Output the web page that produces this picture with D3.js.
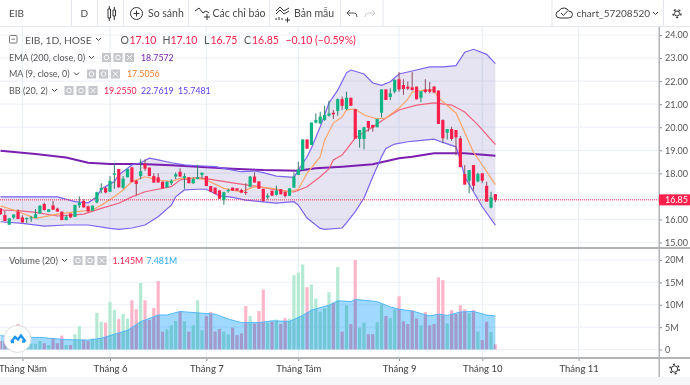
<!DOCTYPE html>
<html>
<head>
<meta charset="utf-8">
<script src="https://cdn.jsdelivr.net/npm/d3@7"></script>
<style>
html, body { margin: 0; padding: 0; background: #fff; overflow: hidden; }
text { font-family: Lato, "Noto Sans", sans-serif; }
</style>
</head>
<body>
<script>
// candles, one row per trading day
const opens = [16.48,16.19,15.77,16.08,16.34,16.09,16.03,16.05,16.06,16.26,16.67,16.32,16.61,16.47,16.34,15.97,16.26,16.11,16.61,16.80,16.57,16.38,16.74,17.29,17.36,17.20,17.94,18.19,17.38,17.83,18.26,17.68,17.88,18.42,18.25,17.88,17.83,17.64,17.39,
  17.57,17.86,18.07,17.80,17.83,17.57,17.75,17.93,17.88,17.45,17.38,17.26,16.84,17.22,17.38,17.35,17.28,17.19,17.42,17.86,17.65,17.33,16.96,17.25,17.07,17.31,17.20,17.03,17.38,17.93,18.14,19.47,19.23,20.20,20.17,20.31,20.50,20.63,20.70,21.22,20.79,21.28,20.78,19.49,19.49,20.27,20.10,20.00,20.63,21.64,21.31,21.54,22.08,
  21.83,21.76,21.73,21.76,21.28,21.64,21.64,21.76,21.59,20.31,19.76,19.92,19.88,19.52,17.97,17.68,18.36,17.65,18.00,17.46,16.51,17.10];
const highs = [16.48,16.38,16.05,16.23,16.44,16.18,16.09,16.15,16.45,16.60,16.73,16.44,16.80,16.51,16.34,16.19,16.26,16.63,17.00,16.87,16.60,16.60,17.20,17.57,17.42,17.88,18.43,18.19,17.88,18.19,18.26,17.71,18.61,18.61,18.25,18.00,18.00,17.64,17.64,
  17.74,18.04,18.22,18.00,17.83,17.83,18.36,18.03,17.88,17.45,17.38,17.26,17.20,17.33,17.38,17.35,17.33,17.57,17.88,18.04,17.65,17.33,17.13,17.25,17.46,17.31,17.20,17.35,18.04,18.50,19.47,19.47,20.20,20.60,20.67,20.92,21.15,20.75,21.25,21.33,21.54,21.28,20.78,19.88,20.02,20.27,20.10,20.36,21.64,21.64,21.69,22.08,22.39,
  22.08,21.98,22.39,21.76,21.56,22.08,21.96,21.79,21.59,20.34,19.92,20.02,19.88,19.62,18.36,18.14,18.36,18.03,18.00,17.64,17.20,17.10];
const lows = [16.20,15.93,15.77,16.03,16.02,15.87,15.83,15.89,16.06,16.26,16.38,16.32,16.42,16.34,15.97,15.97,16.06,16.11,16.50,16.52,16.31,16.38,16.70,17.13,17.13,17.20,17.33,17.39,17.33,17.83,17.62,17.04,17.74,18.11,17.88,17.60,17.60,17.35,17.39,
  17.49,17.75,17.86,17.33,17.57,17.54,17.74,17.78,17.45,17.20,17.10,16.90,16.64,17.16,17.25,17.25,17.16,17.06,17.39,17.60,17.33,16.76,16.87,17.03,17.04,17.09,16.95,17.03,17.38,17.93,18.14,19.07,19.23,20.17,20.14,20.28,20.46,20.36,20.50,20.75,20.75,20.93,19.50,19.11,19.04,19.81,19.81,20.00,20.43,21.18,21.18,21.47,21.54,
  21.40,21.61,21.59,21.21,21.08,21.47,21.47,21.47,20.14,19.33,19.47,19.42,18.78,18.26,17.51,17.13,17.25,17.61,17.57,16.77,16.48,16.75];
const closes = [16.23,15.93,16.05,16.21,16.02,15.87,16.06,16.09,16.22,16.60,16.41,16.44,16.42,16.34,15.97,16.12,16.09,16.63,16.73,16.52,16.35,16.60,17.18,17.36,17.17,17.67,18.00,17.39,17.77,18.19,17.62,17.54,18.09,18.20,17.88,17.60,17.60,17.35,17.64,
  17.68,17.96,17.86,17.88,17.57,17.75,17.83,18.03,17.45,17.20,17.10,16.90,17.18,17.28,17.25,17.25,17.16,17.16,17.86,17.60,17.33,16.80,17.03,17.03,17.25,17.09,17.02,17.35,17.86,18.17,19.47,19.07,20.20,20.31,20.46,20.53,20.60,20.56,21.22,20.93,21.28,20.93,19.50,19.88,20.00,19.97,19.98,20.36,21.64,21.18,21.47,22.05,21.64,
  21.66,21.67,21.61,21.21,21.56,21.53,21.54,21.51,20.14,19.52,19.92,19.49,19.56,18.27,17.51,18.14,17.46,17.97,17.68,16.77,16.96,16.85];
// volume in millions
const volumes = [1.9,1.9,1.3,2.1,5.7,2.1,1.2,1.3,1.3,1.9,1.4,1.0,2.5,1.4,3.1,1.0,1.0,3.4,5.2,2.2,1.9,2.5,8.2,6.2,6.0,10.6,8.8,6.8,7.9,6.9,11.0,9.0,14.9,11.0,6.6,9.3,15.3,4.0,4.5,
  5.4,6.4,8.4,6.3,4.0,5.4,11.0,4.3,7.5,8.4,4.0,4.6,4.0,3.4,4.9,3.2,3.6,9.7,7.5,5.8,8.6,13.4,6.0,6.2,6.7,5.7,7.0,6.9,16.6,17.2,19.0,13.9,14.5,11.4,8.4,9.2,12.8,10.4,18.4,4.0,9.9,5.7,20.0,4.9,6.0,3.4,3.4,6.1,10.1,7.5,7.0,9.0,11.9,
  6.3,5.7,8.8,6.9,5.4,8.4,5.4,5.7,16.1,15.5,5.8,8.8,7.9,9.9,9.0,8.1,8.8,4.0,2.1,6.2,3.9,1.145];

// indicator lines, [bar index, value] read at the turning points
const bbUpper = [[0,16.98],[13,16.98],[17,16.77],[20,16.72],[22,16.98],[23,17.32],[26,17.64],[27,17.93],[30,18.36],[32,18.46],[34,18.66],[36,18.58],[39,18.46],[42,18.37],[45,18.33],[49,18.29],[53,18.14],[55,18.07],[58,18.10],[60,18.03],[63,17.88],[67,17.83],[68,18.14],[70,18.72],[71,19.10],[73,20.02],[75,21.05],[77,21.61],[79,22.36],[80,22.48],[83,22.31],[85,21.92],[87,21.82],[89,21.97],[91,22.31],[94,22.44],[98,22.62],[101,22.62],[104,22.67],[106,23.25],[108,23.38],[111,23.16],[113,22.76]];
const bbLower = [[0,15.90],[5,15.83],[10,15.71],[15,15.76],[20,15.76],[25,15.61],[27,15.57],[30,15.63],[33,15.76],[36,16.12],[39,16.62],[40,16.98],[42,17.28],[45,17.31],[47,17.31],[50,17.02],[53,16.96],[56,16.84],[60,16.76],[63,16.71],[67,16.77],[68,16.62],[70,16.06],[73,15.61],[74,15.57],[78,15.63],[79,15.85],[81,16.34],[83,16.93],[85,17.85],[87,18.72],[88,19.08],[90,19.27],[93,19.37],[95,19.41],[99,19.48],[101,19.34],[104,19.15],[105,18.58],[106,17.85],[108,17.20],[110,16.55],[113,15.75]];
const bbBasis = [[0,16.41],[4,16.38],[8,16.31],[13,16.15],[19,16.23],[23,16.48],[27,16.70],[30,16.98],[33,17.20],[39,17.42],[41,17.71],[45,17.81],[48,17.74],[53,17.59],[59,17.42],[63,17.28],[67,17.19],[70,17.42],[73,17.85],[75,18.19],[76,18.58],[78,18.79],[81,19.53],[85,20.01],[88,20.40],[91,20.75],[95,20.96],[99,21.06],[103,20.96],[106,20.66],[109,20.10],[113,19.25]];
const ema200 = [[0,18.98],[8,18.84],[15,18.69],[20,18.46],[25,18.40],[32,18.40],[39,18.35],[45,18.29],[53,18.20],[60,18.14],[68,18.11],[72,18.22],[78,18.29],[85,18.39],[91,18.65],[94,18.72],[99,18.87],[106,18.87],[113,18.76]];
const ma9 = [[0,16.59],[3,16.41],[8,16.05],[13,16.23],[17,16.33],[21,16.41],[23,16.62],[26,16.98],[28,17.28],[30,17.64],[33,17.85],[36,17.71],[39,17.64],[41,17.78],[45,17.78],[47,17.71],[51,17.35],[55,17.20],[58,17.42],[62,17.35],[66,17.20],[68,17.31],[70,18.00],[73,18.72],[74,19.44],[76,20.18],[78,20.44],[79,20.75],[81,20.79],[83,20.53],[86,20.36],[88,20.40],[91,20.83],[93,21.22],[94,21.53],[97,21.61],[99,21.61],[100,21.27],[104,20.62],[108,18.92],[110,18.36],[113,17.51]];
const volMa = [[0,3.1],[5,2.7],[9,2.7],[15,2.2],[20,2.1],[23,2.5],[26,3.4],[29,4.3],[32,6.2],[36,7.7],[38,7.7],[41,8.5],[46,8.1],[49,7.9],[52,6.8],[55,6.0],[59,6.0],[62,6.4],[66,6.3],[69,7.6],[71,8.8],[75,9.9],[77,10.9],[80,10.7],[81,11.2],[86,10.7],[89,9.5],[91,9.0],[94,8.6],[98,7.5],[100,7.9],[102,7.6],[105,8.4],[108,8.5],[111,7.7],[113,7.48]];

const priceTicks = [15,16,17,18,19,20,21,22,23,24];
const priceLabels = [15,16,18,19,20,21,22,23,24]; // 17.00 sits under the last price tag
const volTicks = [0,5,10,15,20];
const monthTicks = [5,25,47,68,91,110,132];
const monthLabels = ["Tháng Năm","Tháng 6","Tháng 7","Tháng Tám","Tháng 9","Tháng 10","Tháng 11"];
const lastPrice = 16.85;

const width = 690, height = 385;
const RED = "#fb1f4b", GREEN = "#10b482", GRID = "#edf2f8", AXIS = "#b2b4b8", SEP = "#e3e8f0", TXT = "#4a4a4a";

const svg = d3.select("body").append("svg").attr("width", width).attr("height", height).style("display", "block");

const x = d3.scaleLinear().domain([0, 113]).range([0.5, 495.4]);
const yPrice = d3.scaleLinear().domain([15, 24]).range([242.5, 35]);
const yVol = d3.scaleLinear().domain([0, 20]).range([349.5, 260]);

// footer strip
svg.append("rect").attr("x", 0).attr("y", 377).attr("width", width).attr("height", 8).attr("fill", "#f6f7f9");

// grid
let grid = svg.append("g");
priceTicks.forEach(function (d) {
	grid.append("line").attr("x1", 0).attr("x2", 659).attr("y1", yPrice(d)).attr("y2", yPrice(d)).attr("stroke", GRID).attr("stroke-width", 1.2);
});
volTicks.forEach(function (d) {
	grid.append("line").attr("x1", 0).attr("x2", 659).attr("y1", yVol(d)).attr("y2", yVol(d)).attr("stroke", GRID).attr("stroke-width", 1.2);
});
monthTicks.forEach(function (d) {
	grid.append("line").attr("x1", x(d)).attr("x2", x(d)).attr("y1", 27).attr("y2", 358).attr("stroke", "#e6eef6").attr("stroke-width", 1);
});

// bollinger band
let lineP = d3.line().x(d => x(d[0])).y(d => yPrice(d[1]));
svg.append("path")
	.attr("d", lineP(bbUpper.concat(bbLower.slice().reverse())) + "Z")
	.attr("fill", "#5a4aa8").attr("fill-opacity", 0.15);
svg.append("path").attr("d", lineP(ema200)).attr("fill", "none").attr("stroke", "#7a1fb0").attr("stroke-width", 2);
svg.append("path").attr("d", lineP(bbUpper)).attr("fill", "none").attr("stroke", "#7d63f2").attr("stroke-width", 1.2);
svg.append("path").attr("d", lineP(bbLower)).attr("fill", "none").attr("stroke", "#7d63f2").attr("stroke-width", 1.2);
svg.append("path").attr("d", lineP(bbBasis)).attr("fill", "none").attr("stroke", "#f0607e").attr("stroke-width", 1.2);
svg.append("path").attr("d", lineP(ma9)).attr("fill", "none").attr("stroke", "#fca468").attr("stroke-width", 1.2);

// last price line
svg.append("line").attr("x1", 0).attr("x2", 659).attr("y1", yPrice(lastPrice)).attr("y2", yPrice(lastPrice))
	.attr("stroke", RED).attr("stroke-width", 1).attr("stroke-dasharray", "1 1");

// candles
let candles = svg.append("g").selectAll("g").data(d3.range(closes.length)).join("g");
candles.append("line")
	.attr("x1", i => x(i)).attr("x2", i => x(i))
	.attr("y1", i => yPrice(highs[i])).attr("y2", i => yPrice(lows[i]))
	.attr("stroke", i => closes[i] >= opens[i] ? "#2f7f6a" : "#8f4a5e").attr("stroke-width", 1);
candles.append("rect")
	.attr("x", i => x(i) - 1.6).attr("width", 3.2)
	.attr("y", i => yPrice(Math.max(opens[i], closes[i])))
	.attr("height", i => Math.max(1, Math.abs(yPrice(opens[i]) - yPrice(closes[i]))))
	.attr("fill", i => closes[i] >= opens[i] ? GREEN : RED);

// volume
svg.append("g").selectAll("rect").data(volumes).join("rect")
	.attr("x", (d, i) => x(i) - 1.6).attr("width", 3.2)
	.attr("y", d => yVol(d)).attr("height", d => yVol(0) - yVol(d))
	.attr("fill", (d, i) => closes[i] >= opens[i] ? "#b4ead4" : "#ffb6ca");
let areaV = d3.area().x(d => x(d[0])).y0(yVol(0)).y1(d => yVol(d[1]));
svg.append("path").attr("d", areaV(volMa)).attr("fill", "#a0d9ff").style("mix-blend-mode", "multiply");
svg.append("path").attr("d", d3.line().x(d => x(d[0])).y(d => yVol(d[1]))(volMa)).attr("fill", "none").attr("stroke", "#52b8fb").attr("stroke-width", 1);

// axes
function styleAxis(g) {
	g.select(".domain").remove();
	g.selectAll("line").attr("stroke", "#8a8e94");
	g.selectAll("text").attr("fill", "#555").style("font-size", "9px");
}
svg.append("g").attr("transform", "translate(659,0)")
	.call(d3.axisRight(yPrice).tickValues(priceLabels).tickFormat(d3.format(".2f")).tickSize(3).tickPadding(3))
	.call(styleAxis);
svg.append("g").attr("transform", "translate(659,0)")
	.call(d3.axisRight(yVol).tickValues(volTicks).tickFormat(d => d === 0 ? "0" : d + "M").tickSize(3).tickPadding(3))
	.call(styleAxis);
let xAxis = svg.append("g").attr("transform", "translate(0,358)")
	.call(d3.axisBottom(x).tickValues(monthTicks).tickFormat((d, i) => monthLabels[i]).tickSize(3).tickPadding(4))
	.call(styleAxis);
xAxis.selectAll("text").attr("fill", "#4a4a4a").style("font-size", "9.5px").style("font-weight", 500);

svg.append("rect").attr("x", 0).attr("y", 247).attr("width", 659).attr("height", 2).attr("fill", AXIS);
svg.append("rect").attr("x", 0).attr("y", 357).attr("width", 659).attr("height", 2).attr("fill", AXIS);
svg.append("rect").attr("x", 658.5).attr("y", 27).attr("width", 1.5).attr("height", 350).attr("fill", AXIS);
svg.append("rect").attr("x", 660).attr("y", 247).attr("width", 30).attr("height", 2).attr("fill", AXIS);
svg.append("rect").attr("x", 660).attr("y", 357).attr("width", 30).attr("height", 2).attr("fill", AXIS);

// last price label
svg.append("rect").attr("x", 659).attr("y", yPrice(lastPrice) - 5.5).attr("width", 31).attr("height", 11).attr("fill", RED);
svg.append("text").attr("x", 665).attr("y", yPrice(lastPrice) + 3.2).attr("fill", "#fff").style("font-size", "9px").text("16.85");

// helper for the legend text
function label(px, py, str, size, color) {
	return svg.append("text").attr("x", px).attr("y", py).attr("fill", color).style("font-size", size + "px").text(str);
}
function chevron(px, py) {
	svg.append("path").attr("d", `M${px},${py} l2.5,2.5 l2.5,-2.5`).attr("fill", "none").attr("stroke", "#444").attr("stroke-width", 1);
}
function greyButtons(xs, py) {
	xs.forEach(function (bx, i) {
		svg.append("rect").attr("x", bx).attr("y", py).attr("width", 9).attr("height", 9).attr("fill", "#c4c6cc");
		if (i < 2) svg.append("circle").attr("cx", bx + 4.5).attr("cy", py + 4.5).attr("r", 2.3).attr("fill", "none").attr("stroke", "#fff").attr("stroke-width", 1);
		else svg.append("path").attr("d", `M${bx + 2},${py + 2} l5,5 M${bx + 7},${py + 2} l-5,5`).attr("stroke", "#fff").attr("stroke-width", 1);
	});
}

// legend
svg.append("rect").attr("x", 9.5).attr("y", 35.5).attr("width", 7.5).attr("height", 7.5).attr("rx", 1).attr("fill", "none").attr("stroke", "#777");
svg.append("line").attr("x1", 11.5).attr("x2", 15).attr("y1", 39.2).attr("y2", 39.2).attr("stroke", "#777");
label(25, 43.5, "EIB, 1D, HOSE", 10.3, "#555");
chevron(96, 38);
label(120.5, 43.5, "O", 10.5, "#555"); label(129.5, 43.5, "17.10", 10.5, RED);
label(162.5, 43.5, "H", 10.5, "#555"); label(170.5, 43.5, "17.10", 10.5, RED);
label(204, 43.5, "L", 10.5, "#555"); label(210.5, 43.5, "16.75", 10.5, RED);
label(244, 43.5, "C", 10.5, "#555"); label(252, 43.5, "16.85", 10.5, RED);
label(285.5, 43.5, "−0.10 (−0.59%)", 10.5, RED);

label(9, 60.5, "EMA (200, close, 0)", 9, "#555");
chevron(89, 56); greyButtons([102, 113.5, 125], 53);
label(141, 60.5, "18.7572", 8.8, "#7a1fb0");

label(9, 77, "MA (9, close, 0)", 9, "#555");
chevron(74, 72.5); greyButtons([87, 99, 111], 69.5);
label(127, 77, "17.5056", 8.8, "#f57c28");

label(9, 93.5, "BB (20, 2)", 9, "#555");
chevron(52, 89); greyButtons([64.5, 76.5, 88.5], 86);
label(104, 93.5, "19.2550", 8.8, RED);
label(141, 93.5, "22.7619", 8.8, "#5b3cf0");
label(178, 93.5, "15.7481", 8.8, "#5b3cf0");

label(9, 263.5, "Volume (20)", 9.3, "#555");
chevron(62, 259); greyButtons([73.5, 85.5, 97.5], 256);
label(112.5, 263.5, "1.145M", 8.8, RED);
label(146.5, 263.5, "7.481M", 8.8, "#2fa8f5");

// logo badge
svg.append("circle").attr("cx", 17.5).attr("cy", 339).attr("r", 13.5).attr("fill", "#fff").attr("stroke", "#dcdcdc");
svg.append("path").attr("d", "M11,342 l4,-5 l3,2.5 l3,-4 l4.5,6 M11,342 h3 M22,341.5 h3").attr("fill", "none").attr("stroke", "#2196f3").attr("stroke-width", 2.4);

// toolbar
svg.append("rect").attr("x", 0).attr("y", 0).attr("width", width).attr("height", 26).attr("fill", "#fff");
svg.append("rect").attr("x", 0).attr("y", 26).attr("width", width).attr("height", 1).attr("fill", SEP);
[71, 97, 123, 188, 269, 340, 382.5, 551.5, 663].forEach(function (sx) {
	svg.append("rect").attr("x", sx).attr("y", 0).attr("width", 1).attr("height", 26).attr("fill", SEP);
});
label(9, 17, "EIB", 10, TXT);
label(80.5, 17, "D", 10, TXT);
// candle icon
svg.append("path").attr("d", "M108,9 h2.5 v9 h-2.5 z M109.3,6 v3 M109.3,18 v3 M113,10 h2.5 v6 h-2.5 z M114.3,7 v3 M114.3,16 v4")
	.attr("fill", "none").attr("stroke", "#333").attr("stroke-width", 1);
// compare icon
svg.append("circle").attr("cx", 136.5).attr("cy", 13.5).attr("r", 6).attr("fill", "none").attr("stroke", "#333").attr("stroke-width", 1);
svg.append("path").attr("d", "M133.5,13.5 h6 M136.5,10.5 v6").attr("stroke", "#333").attr("stroke-width", 1);
label(148, 17, "So sánh", 10.5, TXT);
// indicators icon
svg.append("path").attr("d", "M195,11 l4,-3 l4,5 l3,-2 l3,2 M204,17 h6 M207,14 v6").attr("fill", "none").attr("stroke", "#333").attr("stroke-width", 1);
label(212.5, 17, "Các chỉ báo", 10.5, TXT);
// templates icon
svg.append("path").attr("d", "M276,11 l4,-4 l4,4 l5,-3 M276,14 l4,-4 l4,4 l5,-3 M276,20 v-2 M279,20 v-3 M282,20 v-2 M285,20 h5 M287.5,17.5 v5").attr("fill", "none").attr("stroke", "#333").attr("stroke-width", 1);
label(294, 17, "Bản mẫu", 10.5, TXT);
// undo, redo
svg.append("path").attr("d", "M347,13 l3,-3 M347,13 l3,3 M347,13 h7 q3,0 3,4").attr("fill", "none").attr("stroke", "#555").attr("stroke-width", 1);
svg.append("path").attr("d", "M375,13 l-3,-3 M375,13 l-3,3 M375,13 h-7 q-3,0 -3,4").attr("fill", "none").attr("stroke", "#ccc").attr("stroke-width", 1);
// cloud
svg.append("path").attr("d", "M560,18 q-4,0 -4,-3.5 q0,-3 3,-3.5 q1.5,-3.5 5.5,-3 q3,0.5 4,3 q4,0 4,3.5 q0,3.5 -4,3.5 z M561,13 l2.5,2.5 l4,-4.5").attr("fill", "none").attr("stroke", "#333").attr("stroke-width", 1);
label(576.5, 17, "chart_57208520", 10, TXT);
chevron(653, 12);
// gear icons
function gear(cx, cy, r) {
	svg.append("circle").attr("cx", cx).attr("cy", cy).attr("r", r).attr("fill", "none").attr("stroke", "#333").attr("stroke-width", 1);
	svg.append("circle").attr("cx", cx).attr("cy", cy).attr("r", r + 1.5).attr("fill", "none").attr("stroke", "#333").attr("stroke-width", 1.4).attr("stroke-dasharray", "2 3");
}
gear(677, 13.5, 2.5);
gear(674.5, 369, 3.2);
</script>
</body>
</html>
